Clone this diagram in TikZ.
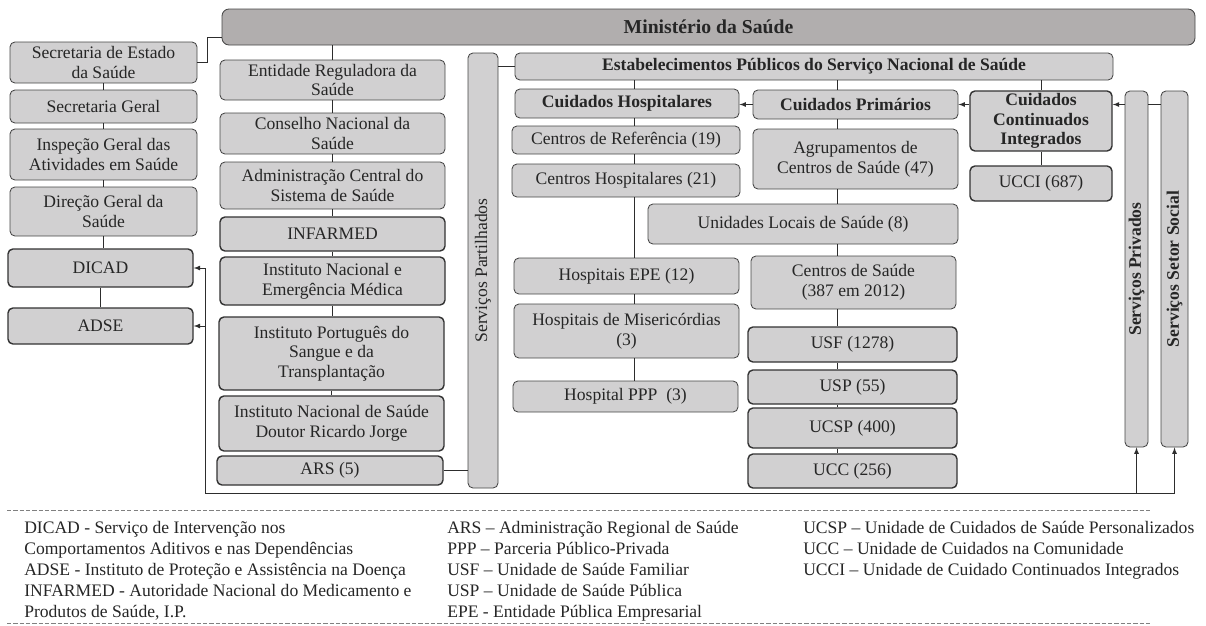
\documentclass[tikz,border=0pt]{standalone}
\usepackage{fontspec}
\setmainfont{Liberation Serif}
\usepackage{graphicx}
\definecolor{boxgray}{RGB}{209,208,209}
\definecolor{topgray}{RGB}{177,174,174}
\tikzset{
  blk/.style={draw=gray!55!black, line width=0.6pt, fill=boxgray, rounded corners=3.5pt,
    align=center, inner sep=1pt, text=black!85, font=\fontsize{12.5}{14}\selectfont},
  lite/.style={},
  dark/.style={draw=black!80, line width=1pt},
  hd/.style={font=\fontsize{12.5}{14}\selectfont\bfseries},
  hddark/.style={hd, dark},
  lnk/.style={draw=gray!35!black, line width=0.6pt},
  leg/.style={anchor=base west, inner sep=0pt, text=black!85, font=\fontsize{12.5}{14}\selectfont}
}
\begin{document}
\begin{tikzpicture}[x=0.025cm, y=-0.025cm, >=latex]
\useasboundingbox (0,0) rectangle (1206,626);
\node[blk, fill=topgray, rounded corners=5pt, font=\fontsize{14}{16}\selectfont\bfseries,
  minimum width={973*0.025cm}, minimum height={36*0.025cm}] (mini) at (708.5,27) {Ministério da Saúde};
% boxes: name/left/top/right/bottom/style/text
\foreach \nm/\xa/\ya/\xb/\yb/\st/\txt in {
    sec/10/42/197/83/lite/{Secretaria de Estado\\da Saúde},
    secg/10/90/197/123/lite/{Secretaria Geral},
    igas/10/129/197/180/lite/{Inspeção Geral das\\Atividades em Saúde},
    dgs/10/187/197/236/lite/{Direção Geral da\\Saúde},
    dicad/8/249/193/287/dark/{DICAD},
    adse/8/308/193/344/dark/{ADSE},
    ent/220/60/445/100/lite/{Entidade Reguladora da\\Saúde},
    cns/220/113/445/154/lite/{Conselho Nacional da\\Saúde},
    acss/220/162/445/209/lite/{Administração Central do\\Sistema de Saúde},
    infarmed/220/217/445/251/dark/{INFARMED},
    inem/220/257/445/305/dark/{Instituto Nacional e\\Emergência Médica},
    ipst/219/317/444/390/dark/{Instituto Português do\\Sangue e da\\Transplantação},
    insa/219/396/444/451/dark/{Instituto Nacional de Saúde\\Doutor Ricardo Jorge},
    ars/217/456/443/485/dark/{ARS (5)},
    part/468/53/498/488/lite/{\rotatebox{90}{Serviços Partilhados}},
    est/515/53/1113/80/hd/{Estabelecimentos Públicos do Serviço Nacional de Saúde},
    ch/515/89/739/118/hd/{Cuidados Hospitalares},
    cp/753/90/958/119/hd/{Cuidados Primários},
    cci/970/91/1112/151/hddark/{Cuidados\\Continuados\\Integrados},
    ref/512/126/740/154/lite/{Centros de Referência (19)},
    chosp/512/164/740/197/lite/{Centros Hospitalares (21)},
    acs/753/129/958/189/lite/{Agrupamentos de\\Centros de Saúde (47)},
    uls/648/204/958/244/lite/{Unidades Locais de Saúde (8)},
    epe/514/258/739/294/lite/{Hospitais EPE (12)},
    mis/514/304/739/358/lite/{Hospitais de Misericórdias\\(3)},
    ppp/513/381/738/412/lite/{Hospital PPP\ \ (3)},
    csau/751/256/956/309/lite/{Centros de Saúde\\(387 em 2012)},
    usf/748/327/957/362/dark/{USF (1278)},
    usp/748/370/957/404/dark/{USP (55)},
    ucsp/748/408/957/448/dark/{UCSP (400)},
    ucc/748/454/957/488/dark/{UCC (256)},
    ucci/970/166/1112/201/dark/{UCCI (687)},
    priv/1125/91/1148/447/hd/{\rotatebox{90}{Serviços Privados}},
    soc/1161/91/1188/447/hd/{\rotatebox{90}{Serviços Setor Social}}}
  \node[blk,\st,minimum width={(\xb-\xa)*0.025cm},minimum height={(\yb-\ya)*0.025cm}]
    (\nm) at ({(\xa+\xb)/2},{(\ya+\yb)/2}) {\txt};
% column lines
\coordinate (hcol) at (634,0);
\coordinate (pcol) at (837,0);
\coordinate (bus) at (205,493);
\draw[lnk] (sec.east) -- ++(10,0) |- ([yshift=0.2cm]mini.south west);
\foreach \u/\v in {sec/secg,secg/igas,igas/dgs,dgs/dicad,dicad/adse,
    ent/cns,cns/acss,acss/infarmed,infarmed/inem,inem/ipst,ipst/insa,cci/ucci}
  \draw[lnk] (\u.south) -- (\u.south |- \v.north);
\draw[lnk] (ent.north) -- (ent.north |- mini.south);
\draw[lnk] (ars.east) -- (ars.east -| part.west);
\draw[lnk] (est.west) -- (est.west -| part.east);
\draw[lnk] (est.south -| hcol) -- (ch.north -| hcol);
\foreach \u/\v in {ch/ref,ref/chosp,chosp/epe,epe/mis,mis/ppp}
  \draw[lnk] (\u.south -| hcol) -- (\v.north -| hcol);
\draw[lnk] (est.south -| pcol) -- (cp.north -| pcol);
\foreach \u/\v in {cp/acs,acs/uls,uls/csau,csau/usf,usf/usp,usp/ucsp,ucsp/ucc}
  \draw[lnk] (\u.south -| pcol) -- (\v.north -| pcol);
\draw[lnk] (est.south -| cci.north) -- (cci.north);
% arrows
\draw[lnk,->] (cp.west) -- (cp.west -| ch.east);
\draw[lnk,->] (cp.east -| cci.west) -- (cp.east);
\draw[lnk,->] (cp.east -| priv.west) -- (cp.east -| cci.east);
\draw[lnk] (cp.east -| priv.east) -- (cp.east -| soc.west);
\draw[lnk] (soc.south |- bus) -- (bus) -- (bus |- dicad.east);
\draw[lnk,->] (bus |- dicad.east) -- (dicad.east);
\draw[lnk,->] (bus |- adse.east) -- (adse.east);
\draw[lnk,->] (priv.south |- bus) -- (priv.south);
\draw[lnk,->] (soc.south |- bus) -- (soc.south);
% legend
\draw[gray, dash pattern=on 3pt off 1.5pt, line width=0.5pt] (7,510) -- (1150,510);
\draw[gray, dash pattern=on 3pt off 1.5pt, line width=0.5pt] (7,623) -- (1150,623);
\foreach \txt [count=\i] in {DICAD - Serviço de Intervenção nos,
    Comportamentos Aditivos e nas Dependências,
    ADSE - Instituto de Proteção e Assistência na Doença,
    INFARMED - Autoridade Nacional do Medicamento e,
    {Produtos de Saúde, I.P.}}
  \node[leg] (la\i) at (24,{512+21*\i}) {\txt};
\foreach \txt [count=\i] in {ARS – Administração Regional de Saúde,
    PPP – Parceria Público-Privada,
    USF – Unidade de Saúde Familiar,
    USP – Unidade de Saúde Pública,
    EPE - Entidade Pública Empresarial}
  \node[leg] (lb\i) at (447,{512+21*\i}) {\txt};
\foreach \txt [count=\i] in {UCSP – Unidade de Cuidados de Saúde Personalizados,
    UCC – Unidade de Cuidados na Comunidade,
    UCCI – Unidade de Cuidado Continuados Integrados}
  \node[leg] (lc\i) at (803,{512+21*\i}) {\txt};
\end{tikzpicture}
\end{document}
